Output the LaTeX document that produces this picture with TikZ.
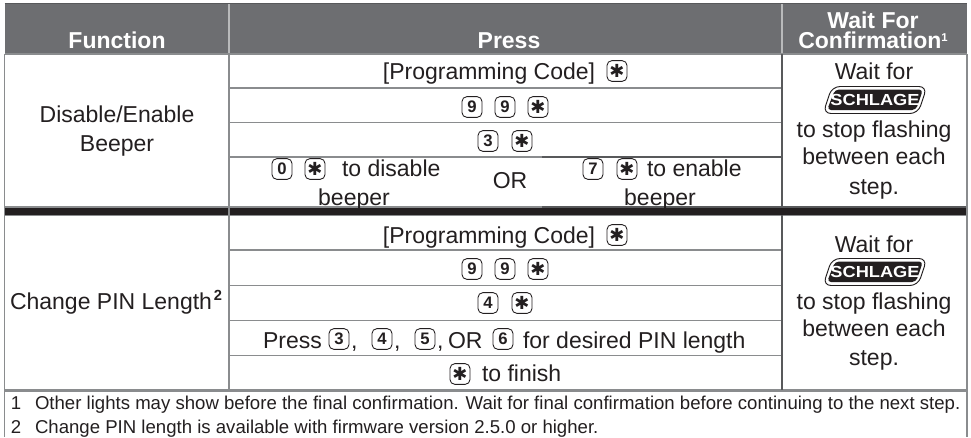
\documentclass[tikz,border=0pt]{standalone}
\usepackage{fontspec}
\setmainfont{Liberation Sans}
\newfontfamily\symfont{DejaVu Sans}
\definecolor{hdrgray}{HTML}{6D6E71}
\definecolor{rulegray}{HTML}{8A8C8E}
\definecolor{darkrule}{HTML}{58595B}
\definecolor{inkdark}{HTML}{231F20}
\tikzset{
  txt/.style={inner sep=0pt,outer sep=0pt,anchor=mid,yshift=-3pt,text=inkdark,font=\fontsize{17.25}{20}\selectfont},
  txtl/.style={txt,anchor=mid west},
  hdr/.style={inner sep=0pt,outer sep=0pt,anchor=mid,yshift=-3pt,text=white,font=\fontsize{17.25}{20}\selectfont\bfseries},
  foot/.style={inner sep=0pt,outer sep=0pt,anchor=mid west,yshift=-2.5pt,text=inkdark,font=\fontsize{13.95}{17}\selectfont},
  keycap/.style={draw=inkdark,line width=0.65pt,rounded corners=3.6pt,minimum width=15pt,minimum height=15.5pt,inner sep=0pt,fill=white,text=inkdark,font=\fontsize{12.5}{12}\selectfont\bfseries},
  rowline/.style={draw=rulegray,line width=1.2pt},
  darkline/.style={draw=darkrule,line width=1.2pt},
  pics/schlagelogo/.style={code={
    \draw[inkdark,line width=0.7pt,rounded corners=6pt,fill=white] (-43,-13.5) -- (52,-13.5) -- (43,13.5) -- (-52,13.5) -- cycle;
    \fill[inkdark,rounded corners=3pt] (-40,-10.5) -- (48,-10.5) -- (41,10) -- (-48,10) -- cycle;
    \node[inner sep=0pt,text=white,font=\fontsize{12}{12}\selectfont\bfseries,xscale=1.14] (-lg) at (0,0) {SCHLAGE};
  }}
}
\newcommand{\keystar}{\raisebox{-1pt}[8pt][0pt]{\symfont\fontsize{13.5}{13}\selectfont\char"2731}}
\begin{document}
\begin{tikzpicture}[x=0.75pt,y=-0.75pt]
\useasboundingbox (0,0) rectangle (971,437);
\fill[white] (0,0) rectangle (971,437);
% header
\fill[hdrgray] (4.5,3) rectangle (967,54);
\draw[darkrule,line width=1.2pt] (4.5,3.5) -- (967,3.5);
\draw[rulegray!60,line width=0.9pt] (229,4) -- (229,54);
\draw[rulegray!60,line width=0.9pt] (782,4) -- (782,54);
\node[hdr] (hf) at (117,41) {Function};
\node[hdr] (hp) at (509,41) {Press};
\node[hdr] (hw1) at (873,21) {Wait For};
\node[hdr] (hw2) at (873,41) {Confirmation\raisebox{.55ex}{\fontsize{8.5}{9}\selectfont 1}};
% grid
\draw[rowline] (4.5,54) -- (967,54);
\draw[rowline] (229,88) -- (782,88);
\draw[rowline] (229,122.5) -- (782,122.5);
\draw[rowline] (229,157) -- (542,157);
\draw[darkline] (542,157) -- (782,157);
\fill[inkdark] (4.5,207.5) rectangle (967,215);
\draw[rowline] (4.5,206.8) -- (542,206.8);
\draw[rowline] (4.5,215.5) -- (967,215.5);
\draw[darkline] (542,206.8) -- (967,206.8);
\draw[rowline] (229,250) -- (782,250);
\draw[rowline] (229,285.5) -- (782,285.5);
\draw[rowline] (229,320.5) -- (782,320.5);
\draw[rowline] (229,355.5) -- (782,355.5);
\draw[rulegray,line width=1.6pt] (4.5,390.5) -- (967,390.5);
\draw[rowline] (4.5,54) -- (4.5,437);
\draw[rowline] (967,54) -- (967,437);
\draw[rowline] (229,54) -- (229,390);
\draw[darkline] (782,54) -- (782,207);
\draw[darkline] (782,215) -- (782,390);
% function column
\node[txt] (f1a) at (117,115) {Disable/Enable};
\node[txt] (f1b) at (117,144) {Beeper};
\node[txtl] (f2) at (10,302) {Change PIN Length};
\node[inner sep=0pt,text=inkdark,font=\fontsize{11}{12}\selectfont\bfseries] (f2s) at (218,295) {2};
% section 1 press
\node[txt] (p1) at (489,72) {[Programming Code]};
\node[keycap] (k1s) at (617,71) {\keystar};
\node[keycap] (k2a) at (472,107) {9};
\node[keycap] (k2b) at (505,107) {9};
\node[keycap] (k2s) at (538,107) {\keystar};
\node[keycap] (k3a) at (488,141) {3};
\node[keycap] (k3s) at (522,141) {\keystar};
\node[keycap] (k40) at (282,169) {0};
\node[keycap] (k4s) at (315,169) {\keystar};
\node[txtl] (t4a) at (342,169) {to disable};
\node[txt] (t4b) at (354,198) {beeper};
\node[txt] (or) at (510,181) {OR};
\node[keycap] (k47) at (593,169) {7};
\node[keycap] (k4t) at (627,169) {\keystar};
\node[txtl] (t4c) at (647,169) {to enable};
\node[txt] (t4d) at (660,198) {beeper};
% section 2 press
\node[txt] (p2) at (489,236) {[Programming Code]};
\node[keycap] (m1s) at (617,235) {\keystar};
\node[keycap] (m2a) at (472,269) {9};
\node[keycap] (m2b) at (505,269) {9};
\node[keycap] (m2s) at (538,269) {\keystar};
\node[keycap] (m3a) at (488,303) {4};
\node[keycap] (m3s) at (522,303) {\keystar};
\node[txtl] (m4p) at (263,341) {Press};
\node[keycap] (m43) at (339,339) {3};
\node[txtl] (c1) at (351,341) {,};
\node[keycap] (m44) at (382,339) {4};
\node[txtl] (c2) at (394,341) {,};
\node[keycap] (m45) at (425,339) {5};
\node[txtl] (c3) at (437,341) {,};
\node[txtl] (m4o) at (448,341) {OR};
\node[keycap] (m46) at (503,339) {6};
\node[txtl] (m4t) at (523,341) {for desired PIN length};
\node[keycap] (m5s) at (460,374) {\keystar};
\node[txtl] (m5t) at (482,374) {to finish};
% confirmation column
\node[txt] (w1a) at (874,72) {Wait for};
\pic (l1) at (875,100) {schlagelogo};
\node[txt] (w1b) at (874,130) {to stop flashing};
\node[txt] (w1c) at (874,157) {between each};
\node[txt] (w1d) at (874,187) {step.};
\node[txt] (w2a) at (874,245) {Wait for};
\pic (l2) at (875,272) {schlagelogo};
\node[txt] (w2b) at (874,302) {to stop flashing};
\node[txt] (w2c) at (874,329) {between each};
\node[txt] (w2d) at (874,358) {step.};
% footnotes
\node[foot] (n1) at (11,403) {1};
\node[foot] (n1t) at (35,403) {Other lights may show before the final confirmation. Wait for final confirmation before continuing to the next step.};
\node[foot] (n2) at (11,427) {2};
\node[foot] (n2t) at (35,427) {Change PIN length is available with firmware version 2.5.0 or higher.};
\end{tikzpicture}
\end{document}
